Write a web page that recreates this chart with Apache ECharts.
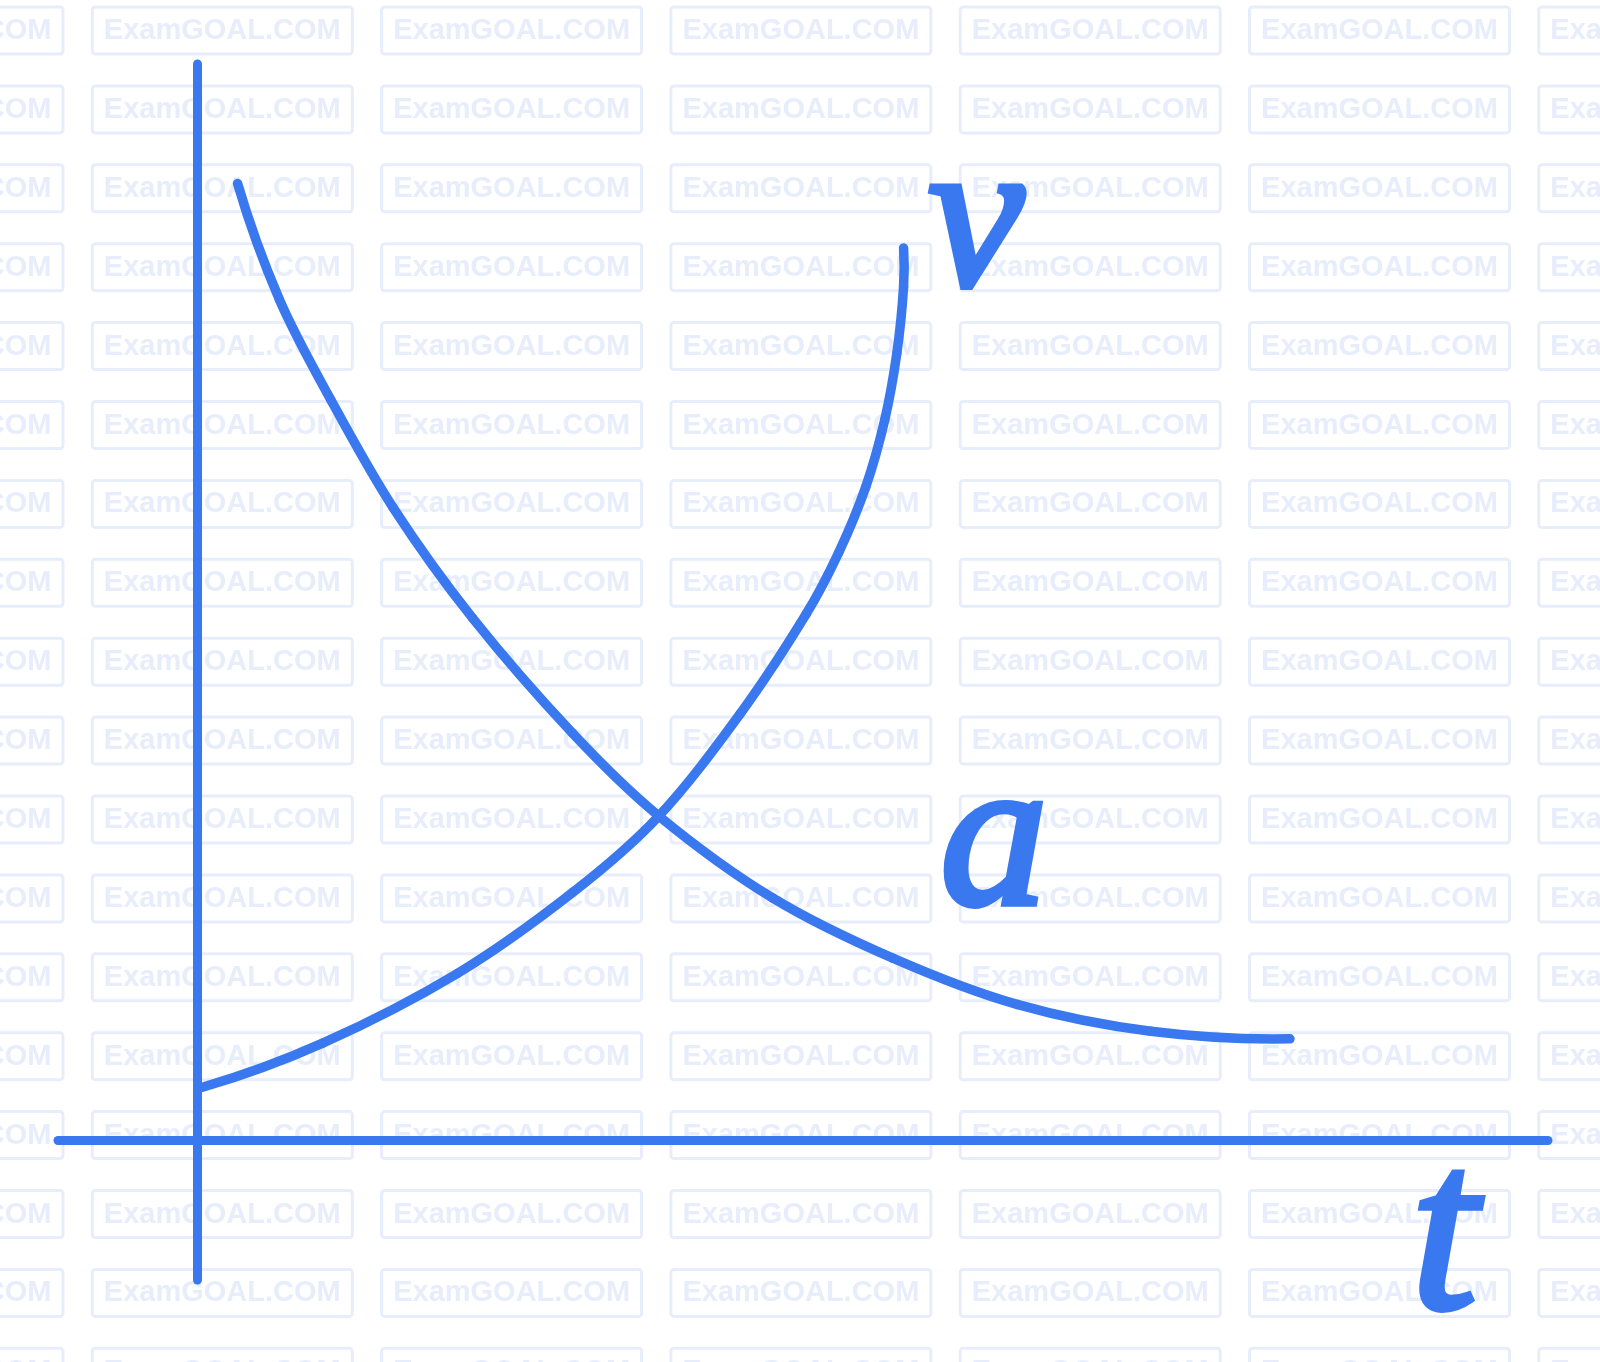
<!DOCTYPE html>
<html>
<head>
<meta charset="utf-8">
<script src="https://cdn.jsdelivr.net/npm/echarts@6/dist/echarts.min.js"></script>
<style>
html,body{margin:0;padding:0;background:#ffffff;}
#chart{width:1600px;height:1362px;}
</style>
</head>
<body>
<div id="chart"></div>
<script>
// velocity curve v(t): rising
const vTime = [0.04, 0.93, 1.93, 2.78, 3.41, 4.02, 4.51, 4.75, 4.95, 5.09, 5.18, 5.23, 5.23];
const vValue = [0.49, 0.90, 1.55, 2.30, 3.00, 3.96, 4.89, 5.46, 6.07, 6.69, 7.31, 7.93, 8.29];
// acceleration curve a(t): falling
const aTime = [0.30, 0.61, 0.99, 1.45, 2.04, 2.78, 3.41, 4.26, 5.15, 6.07, 7.06, 8.09];
const aValue = [8.89, 7.81, 6.88, 5.88, 4.85, 3.78, 3.02, 2.25, 1.69, 1.26, 1.01, 0.94];
const curveLabels = ['v', 'a', 't'];
const watermarkText = 'ExamGOAL.COM';

const BLUE = '#3a78f0';
const WM = '#e7edfb';

const vData = vTime.map((t, i) => [t, vValue[i]]);
const aData = aTime.map((t, i) => [t, aValue[i]]);

// smooth curve segment renderer (Catmull-Rom style tangents, through the axis scales)
function curveRenderer(times, values) {
  const n = times.length;
  return function (params, api) {
    const i = params.dataIndex;
    if (i >= n - 1) return null;
    const P = k => { const j = Math.max(0, Math.min(n - 1, k)); return api.coord([times[j], values[j]]); };
    const p0 = P(i - 1), p1 = P(i), p2 = P(i + 1), p3 = P(i + 2);
    const d = (a, b) => Math.hypot(a[0] - b[0], a[1] - b[1]) || 1e-6;
    const d01 = d(p0, p1), d12 = d(p1, p2), d23 = d(p2, p3);
    const cx = (p2[0] - p1[0]) / d12, cy = (p2[1] - p1[1]) / d12;
    let t1x, t1y, t2x, t2y;
    const first = i === 0, last = i + 1 === n - 1;
    if (!first) { t1x = (p2[0] - p0[0]) / (d01 + d12); t1y = (p2[1] - p0[1]) / (d01 + d12); }
    if (!last) { t2x = (p3[0] - p1[0]) / (d12 + d23); t2y = (p3[1] - p1[1]) / (d12 + d23); }
    if (first && last) { t1x = t2x = cx; t1y = t2y = cy; }
    else if (first) { t1x = 2 * cx - t2x; t1y = 2 * cy - t2y; }
    else if (last) { t2x = 2 * cx - t1x; t2y = 2 * cy - t1y; }
    const k = d12 / 3;
    return {
      type: 'bezierCurve',
      shape: {
        x1: p1[0], y1: p1[1], x2: p2[0], y2: p2[1],
        cpx1: p1[0] + t1x * k, cpy1: p1[1] + t1y * k,
        cpx2: p2[0] - t2x * k, cpy2: p2[1] - t2y * k
      },
      style: { stroke: BLUE, lineWidth: 9.5, lineCap: 'round', fill: null }
    };
  };
}

// watermark tiles (decoration)
const graphics = [];
for (let r = 0; r < 18; r++) {
  for (let c = 0; c < 7; c++) {
    const x = -197 + 289.3 * c;
    const y = 7 + 78.9 * r;
    graphics.push({
      type: 'rect', z: 0, silent: true,
      shape: { x: x, y: y, width: 260, height: 47, r: 3 },
      style: { fill: 'none', stroke: WM, lineWidth: 3 }
    });
    graphics.push({
      type: 'text', z: 0, silent: true,
      x: x + 130, y: y + 24,
      style: { text: watermarkText, fill: WM, font: 'bold 29px "Liberation Sans", Arial, sans-serif', align: 'center', verticalAlign: 'middle' }
    });
  }
}
const labelStyle = (txt, size) => ({ text: txt, fill: BLUE, stroke: BLUE, lineWidth: 6,
  font: 'italic ' + size + 'px "Liberation Serif", "Times New Roman", serif', align: 'center', verticalAlign: 'middle' });
graphics.push({ type: 'text', z: 100, silent: true, x: 976, y: 228, style: labelStyle(curveLabels[0], 215) });
graphics.push({ type: 'text', z: 100, silent: true, x: 994, y: 847, style: labelStyle(curveLabels[1], 215) });
graphics.push({ type: 'text', z: 100, silent: true, x: 1444, y: 1245, style: labelStyle(curveLabels[2], 240) });

const chart = echarts.init(document.getElementById('chart'), null, { renderer: 'canvas' });
chart.setOption({
  backgroundColor: '#ffffff',
  animation: false,
  graphic: { elements: graphics },
  grid: { left: 58, right: 52, top: 64, bottom: 82, containLabel: false },
  xAxis: {
    type: 'value', min: -1.029, max: 10,
    axisLine: { show: true, onZero: true, lineStyle: { color: BLUE, width: 9, cap: 'round' } },
    axisTick: { show: false }, axisLabel: { show: false }, splitLine: { show: false }
  },
  yAxis: {
    type: 'value', min: -1.301, max: 10,
    axisLine: { show: true, onZero: true, lineStyle: { color: BLUE, width: 9, cap: 'round' } },
    axisTick: { show: false }, axisLabel: { show: false }, splitLine: { show: false }
  },
  series: [
    { name: 'v', type: 'custom', coordinateSystem: 'cartesian2d', data: vData, z: 5,
      encode: { x: 0, y: 1 }, renderItem: curveRenderer(vTime, vValue), clip: false },
    { name: 'a', type: 'custom', coordinateSystem: 'cartesian2d', data: aData, z: 5,
      encode: { x: 0, y: 1 }, renderItem: curveRenderer(aTime, aValue), clip: false }
  ]
});
</script>
</body>
</html>
